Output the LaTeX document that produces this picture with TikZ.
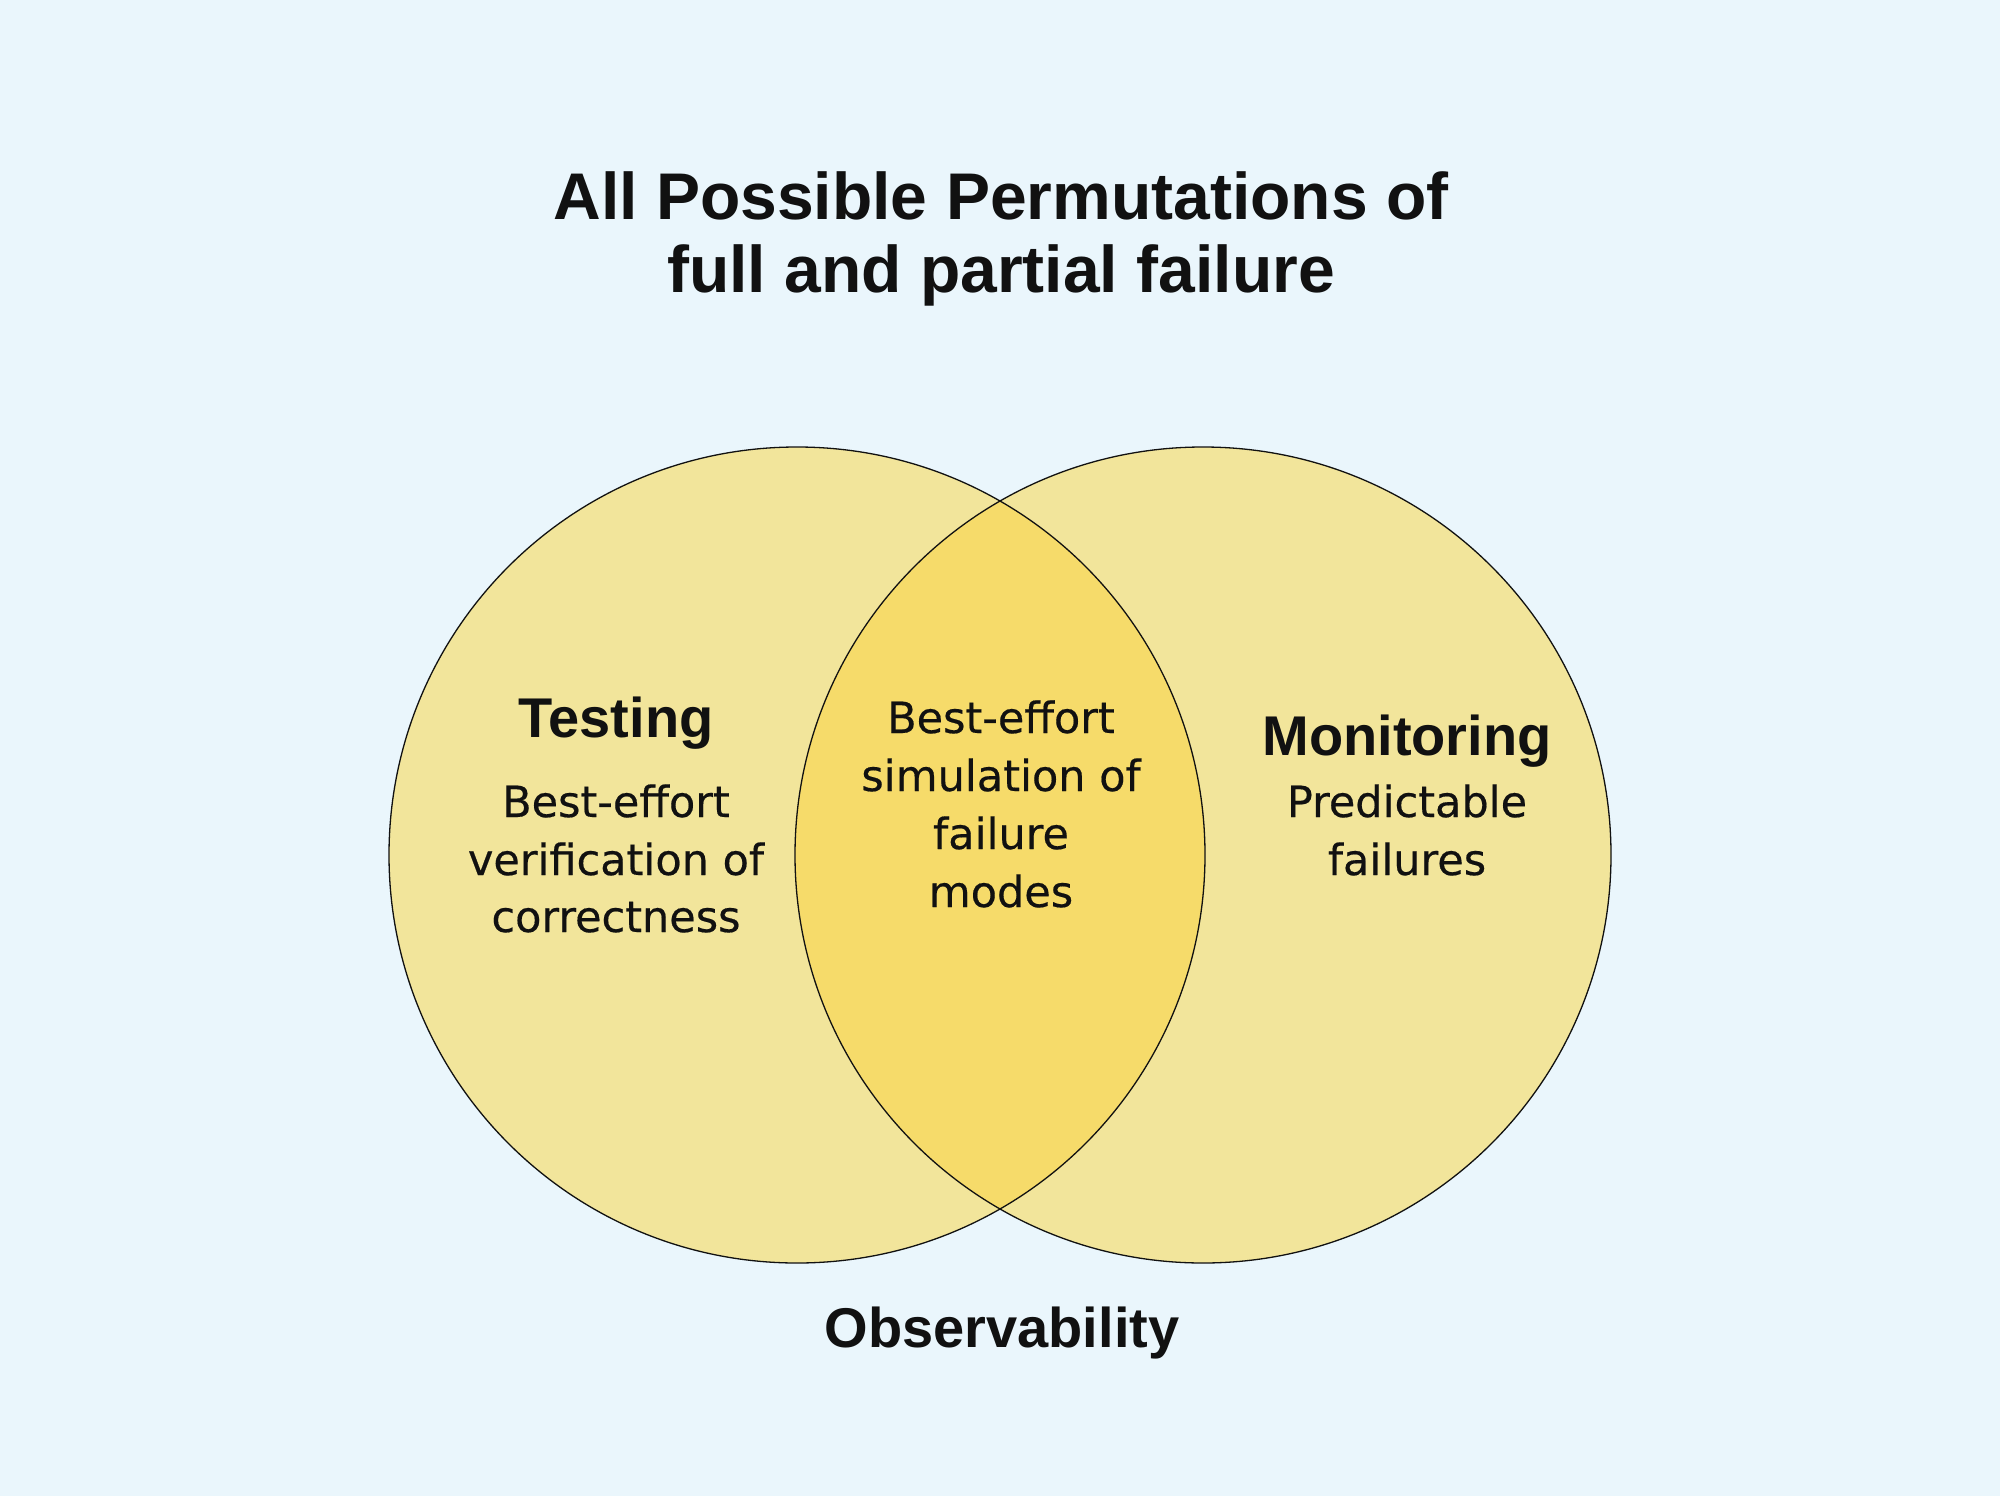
\documentclass[tikz,border=0pt]{standalone}
\usepackage{fontspec}
\setmainfont{DejaVu Sans}[FakeBold=0.4]
\newfontfamily\hf{Liberation Sans}
\definecolor{bgc}{RGB}{234,246,252}
\definecolor{cfill}{RGB}{242,229,155}
\definecolor{ofill}{RGB}{246,219,106}
\definecolor{ink}{RGB}{17,17,17}
\begin{document}
\begin{tikzpicture}[x=1pt,y=-1pt,
  ttl/.style={anchor=base,inner sep=0pt,text=ink,font=\hf\bfseries\fontsize{66}{73}\selectfont},
  head/.style={anchor=base,inner sep=0pt,text=ink,font=\hf\bfseries\fontsize{56}{62}\selectfont},
  body/.style={anchor=base,inner sep=0pt,text=ink,font=\fontsize{43}{58}\selectfont},
  ring/.style={draw=ink,line width=1.3pt}]
\useasboundingbox (0,0) rectangle (2000,1496);
\fill[bgc] (0,0) rectangle (2000,1496);
% circles
\coordinate (cl) at (797,855);
\coordinate (cr) at (1203,855);
\fill[cfill] (cl) circle[radius=408];
\fill[cfill] (cr) circle[radius=408];
\begin{scope}
  \clip (cl) circle[radius=408];
  \fill[ofill] (cr) circle[radius=408];
\end{scope}
\draw[ring] (cl) circle[radius=408];
\draw[ring] (cr) circle[radius=408];
% title
\node[ttl] (t1) at (1001,219) {All Possible Permutations of};
\node[ttl] (t2) at (1001,292) {full and partial failure};
% testing
\node[head] (th) at (616,737) {Testing};
\node[body] (tb1) at (616,817) {Best-effort};
\node[body] (tb2) at (616,875) {verification of};
\node[body] (tb3) at (616,932) {correctness};
% middle
\node[body] (mb1) at (1001,733) {Best-effort};
\node[body] (mb2) at (1001,791) {simulation of};
\node[body] (mb3) at (1001,849) {failure};
\node[body] (mb4) at (1001,907) {modes};
% monitoring
\node[head] (mh) at (1407,755) {Monitoring};
\node[body] (mo1) at (1407,817) {Predictable};
\node[body] (mo2) at (1407,875) {failures};
% observability
\node[head] (ob) at (1002,1347) {Observability};
\end{tikzpicture}
\end{document}
